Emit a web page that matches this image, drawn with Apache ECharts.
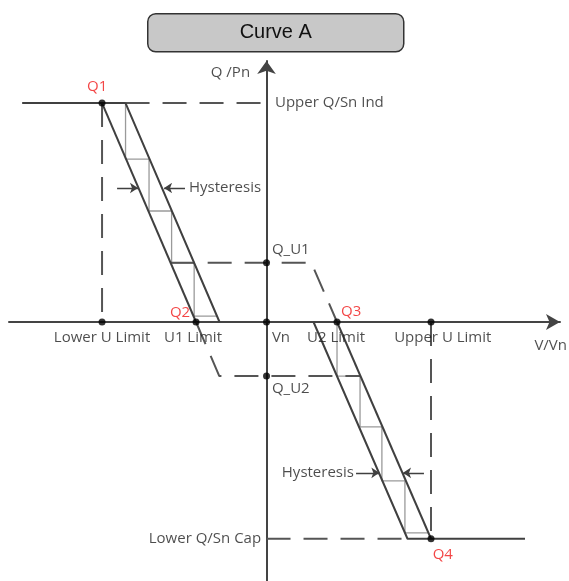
<!DOCTYPE html>
<html>
<head>
<meta charset="utf-8">
<script src="https://cdn.jsdelivr.net/npm/echarts@6/dist/echarts.min.js"></script>
<style>
  html, body { margin: 0; padding: 0; background: #fff; }
  #chart { width: 569px; height: 581px; }
</style>
</head>
<body>
<div id="chart"></div>
<script>
// x: deviation from Vn in %, y: Q/Pn in %
const upperPath = [[-10.4, 100], [-6, 100], [-2, 0]];
const leftInner = [[-7, 100], [-3, 0]];
const lowerPath = [[2, 0], [6, -99], [11, -99]];
const rightOuter = [[3, 0], [7, -99]];

const topDash = [[-6, 100], [0, 100]];
const bottomDash = [[0, -99], [6, -99]];
const lowerUDash = [[-7, 100], [-7, 0]];
const upperUDash = [[7, 0], [7, -99]];
const qu1Dash = [[-4.08, 27], [1.91, 27], [3, 0]];
const qu2Dash = [[-3, 0], [-2.01, -24.7], [4, -24.7]];

const stepsLeft = [[-6, 100], [-6, 74.4], [-5, 74.4], [-5, 50.7], [-4.04, 50.7], [-4.04, 26.9], [-3.08, 26.9], [-3.08, 2.7], [-2.12, 2.7]];
const stepsRight = [[3, 0], [3, -24.7], [3.98, -24.7], [3.98, -47.9], [4.91, -47.9], [4.91, -72.6], [5.89, -72.6], [5.89, -96.3], [6.87, -96.3]];

const dots = [[-7, 100], [-3, 0], [3, 0], [7, -99], [-7, 0], [7, 0], [0, 0], [0, 27], [0, -24.7]];

const arrows = [
  [[-6.36, 61.2], [-5.47, 61.2]],
  [[-3.47, 61.2], [-4.36, 61.2]],
  [[3.81, -68.9], [4.8, -68.9]],
  [[6.7, -68.9], [5.81, -68.9]]
];

// labels: text, x, y, align
const axisLabels = [
  ['Q /Pn', -0.7, 113.7, 'right'],
  ['Upper Q/Sn Ind', 0.36, 100, 'left'],
  ['Q_U1', 0.23, 32.9, 'left'],
  ['Q_U2', 0.23, -30.6, 'left'],
  ['Lower U Limit', -7, -7.3, 'center'],
  ['U1 Limit', -3.13, -7.3, 'center'],
  ['Vn', 0.23, -7.3, 'left'],
  ['U2 Limit', 2.96, -7.3, 'center'],
  ['Upper U Limit', 7.5, -7.3, 'center'],
  ['V/Vn', 11.4, -11, 'left'],
  ['Lower Q/Sn Cap', -0.23, -99, 'right'],
  ['Hysteresis', -3.3, 61.2, 'left'],
  ['Hysteresis', 3.72, -68.9, 'right']
];
const pointLabels = [
  ['Q1', -7.21, 107.3, 'center'],
  ['Q2', -3.68, 4.1, 'center'],
  ['Q3', 3.17, 4.6, 'left'],
  ['Q4', 7.5, -106.4, 'center']
];

const chart = echarts.init(document.getElementById('chart'));

const solid = (data) => ({
  type: 'line', data, symbol: 'none', z: 3,
  lineStyle: { color: '#404040', width: 2 }
});
const dashed = (data) => ({
  type: 'line', data, symbol: 'none', z: 2,
  lineStyle: { color: '#555', width: 2, type: [24, 13] }
});
const textSeries = (list, color, z) => ({
  type: 'scatter', symbolSize: 0, z,
  data: list.map(([t, x, y, align]) => ({
    value: [x, y], name: t,
    label: { align }
  })),
  label: {
    show: true, position: 'inside', formatter: (p) => p.name,
    color, fontSize: 15, fontFamily: 'Open Sans', verticalAlign: 'middle'
  }
});

chart.setOption({
  animation: false,
  grid: { left: 9, right: 9, top: 61, bottom: 0 },
  xAxis: {
    type: 'value', min: -10.96, max: 12.49,
    axisLine: {
      onZero: true, symbol: ['none', 'arrow'], symbolSize: [12, 14],
      lineStyle: { color: '#444', width: 2 }
    },
    axisTick: { show: false }, axisLabel: { show: false }, splitLine: { show: false }
  },
  yAxis: {
    type: 'value', min: -118.3, max: 119.2,
    axisLine: {
      onZero: true, symbol: ['none', 'arrow'], symbolSize: [14, 13],
      lineStyle: { color: '#444', width: 2 }
    },
    axisTick: { show: false }, axisLabel: { show: false }, splitLine: { show: false }
  },
  graphic: [{
    type: 'group', left: 147, top: 13,
    children: [
      { type: 'rect', shape: { x: 0, y: 0, width: 256, height: 38, r: 8 },
        style: { fill: '#c8c8c8', stroke: '#333', lineWidth: 1.5 } },
      { type: 'text', x: 128, y: 19,
        style: { text: 'Curve A', fill: '#111', font: '20px "Liberation Sans"', align: 'center', verticalAlign: 'middle' } }
    ]
  }],
  series: [
    dashed(topDash), dashed(bottomDash), dashed(lowerUDash), dashed(upperUDash),
    dashed(qu1Dash), dashed(qu2Dash),
    { type: 'line', data: stepsLeft, symbol: 'none', z: 1, lineStyle: { color: '#9a9a9a', width: 1.3 } },
    { type: 'line', data: stepsRight, symbol: 'none', z: 1, lineStyle: { color: '#9a9a9a', width: 1.3 } },
    solid(upperPath), solid(leftInner), solid(lowerPath), solid(rightOuter),
    {
      type: 'lines', coordinateSystem: 'cartesian2d', polyline: false, z: 4,
      symbol: ['none', 'arrow'], symbolSize: 8,
      lineStyle: { color: '#404040', width: 1.3, opacity: 1 },
      data: arrows.map((c) => ({ coords: c }))
    },
    { type: 'scatter', data: dots, symbolSize: 7, z: 5, itemStyle: { color: '#000' } },
    textSeries(axisLabels, '#1f1f1f', 6),
    textSeries(pointLabels, '#f01818', 6)
  ]
});
</script>
</body>
</html>
